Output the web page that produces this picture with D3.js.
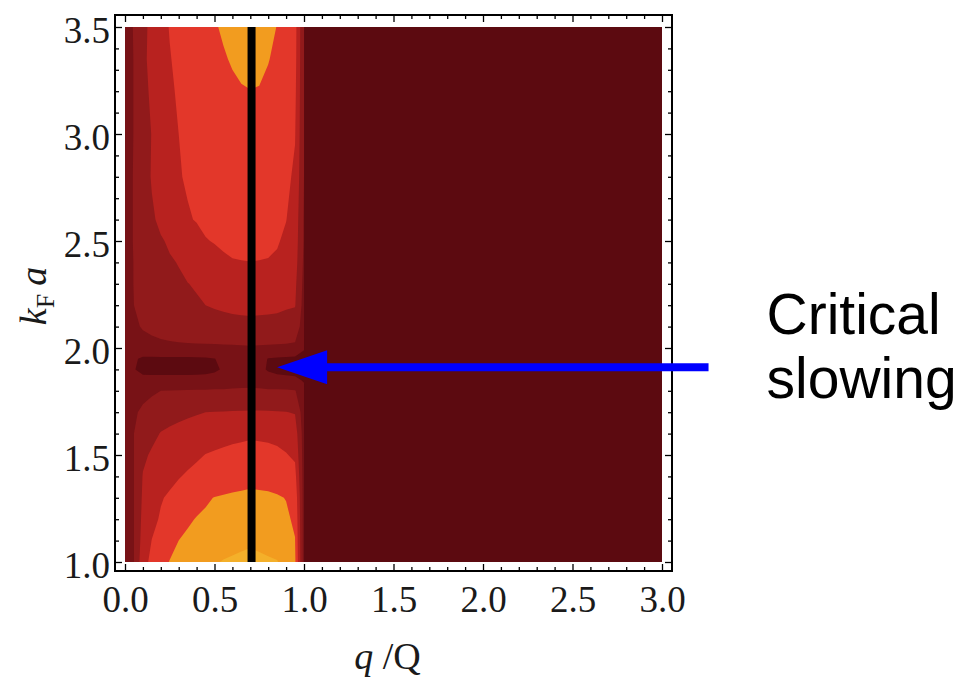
<!DOCTYPE html>
<html><head><meta charset="utf-8">
<script src="https://cdn.jsdelivr.net/npm/d3@7"></script>
<style>body{margin:0;background:#fff}</style>
</head><body>
<svg id="chart" width="979" height="677"></svg>
<script>
// ---- data ----
const qValues = [0,0.05,0.1,0.15,0.2,0.25,0.3,0.35,0.4,0.45,0.5,0.55,0.6,0.65,0.7,0.75,0.8,0.85,0.9,0.95,1.0];
const plateauQ = [1.001, 3.0];
const plateauValue = 0;
const kValues = [1.0,1.1,1.2,1.3,1.4,1.5,1.6,1.7,1.8,1.85,1.9,1.95,2.0,2.1,2.2,2.3,2.4,2.5,2.6,2.8,3.0,3.2,3.35,3.5];
const rowK100 = [1.3,2.0,3.64,4.25,4.67,5.04,5.21,5.39,5.57,5.75,5.93,6.05,6.13,6.22,6.3,6.21,6.12,6.04,5.68,5.15,1.5];
const rowK110 = [1.3,2.0,3.41,4.02,4.33,4.67,5.0,5.14,5.28,5.41,5.55,5.62,5.7,5.77,5.84,5.76,5.68,5.6,5.3,5.02,1.5];
const rowK120 = [1.3,2.0,3.27,3.73,4.11,4.37,4.63,4.89,5.04,5.11,5.18,5.25,5.31,5.38,5.45,5.38,5.32,5.25,5.1,4.9,1.5];
const rowK130 = [1.3,2.0,3.15,3.54,3.92,4.15,4.34,4.53,4.72,4.91,5.02,5.06,5.1,5.12,5.15,5.13,5.12,5.06,4.98,4.7,1.5];
const rowK140 = [1.3,2.0,3.05,3.27,3.5,3.73,3.95,4.11,4.24,4.38,4.51,4.65,4.7,4.75,4.8,4.77,4.73,4.7,4.5,4.3,1.5];
const rowK150 = [1.3,2.0,2.83,3.12,3.27,3.42,3.58,3.73,3.88,4.02,4.09,4.17,4.25,4.3,4.35,4.33,4.3,4.18,4.05,3.85,1.5];
const rowK160 = [1.25,2.0,2.38,2.77,3.04,3.16,3.27,3.38,3.49,3.6,3.65,3.7,3.75,3.8,3.85,3.82,3.78,3.75,3.62,3.5,1.5];
const rowK170 = [1.2,1.87,2.17,2.39,2.6,2.68,2.76,2.84,2.92,3.0,3.02,3.03,3.05,3.06,3.08,3.07,3.06,3.04,3.02,2.95,1.4];
const rowK180 = [1.15,1.53,1.71,1.86,2.0,2.02,2.03,2.05,2.07,2.08,2.1,2.1,2.11,2.11,2.12,2.12,2.11,2.11,2.1,2.05,1.3];
const rowK185 = [1.15,1.2,1.25,1.27,1.28,1.28,1.28,1.28,1.28,1.3,1.35,1.45,1.6,1.68,1.7,1.6,1.4,1.3,1.25,1.2,0.9];
const rowK190 = [1.1,1.05,0.75,0.7,0.7,0.7,0.7,0.7,0.72,0.76,0.85,1.1,1.3,1.42,1.45,1.25,0.9,0.75,0.7,0.65,0.5];
const rowK195 = [1.12,1.1,0.88,0.85,0.85,0.85,0.85,0.85,0.86,0.9,0.98,1.2,1.4,1.52,1.55,1.35,0.96,0.88,0.85,0.8,0.6];
const rowK200 = [1.15,1.3,1.5,1.65,1.75,1.8,1.82,1.84,1.85,1.85,1.86,1.87,1.88,1.9,1.92,1.9,1.88,1.86,1.85,1.8,1.1];
const rowK210 = [1.2,1.8,2.1,2.25,2.35,2.42,2.48,2.52,2.56,2.6,2.63,2.66,2.68,2.69,2.7,2.69,2.68,2.66,2.62,2.55,1.5];
const rowK220 = [1.25,2.0,2.3,2.5,2.62,2.72,2.8,2.87,2.94,3.0,3.08,3.15,3.22,3.27,3.3,3.28,3.25,3.2,3.1,3.05,1.6];
const rowK230 = [1.25,2.05,2.4,2.6,2.75,2.85,2.93,2.99,3.05,3.15,3.3,3.42,3.52,3.6,3.65,3.63,3.6,3.52,3.4,3.2,1.7];
const rowK240 = [1.3,2.05,2.5,2.7,2.85,2.95,3.02,3.15,3.3,3.5,3.7,3.88,3.96,3.98,3.99,3.98,3.96,3.88,3.7,3.4,1.8];
const rowK250 = [1.3,2.1,2.55,2.8,2.95,3.07,3.18,3.35,3.55,3.95,4.05,4.12,4.17,4.19,4.2,4.19,4.15,4.07,3.85,3.5,1.9];
const rowK260 = [1.3,2.1,2.6,2.92,3.12,3.35,3.58,3.88,4.08,4.2,4.27,4.3,4.33,4.35,4.35,4.34,4.3,4.2,4.02,3.6,1.9];
const rowK280 = [1.3,2.1,2.7,3.05,3.3,3.6,3.9,4.15,4.3,4.4,4.45,4.5,4.53,4.55,4.55,4.53,4.5,4.4,4.2,3.85,2.0];
const rowK300 = [1.3,2.05,2.75,3.02,3.4,3.7,4.0,4.25,4.42,4.55,4.62,4.68,4.72,4.74,4.75,4.74,4.7,4.6,4.4,4.05,2.0];
const rowK320 = [1.3,2.05,2.8,3.12,3.5,3.85,4.12,4.38,4.55,4.68,4.76,4.83,4.9,4.96,4.99,4.97,4.9,4.78,4.58,4.2,2.0];
const rowK335 = [1.3,2.05,2.85,3.2,3.6,3.95,4.22,4.45,4.62,4.76,4.86,4.95,5.05,5.13,5.18,5.15,5.02,4.9,4.7,4.3,2.0];
const rowK350 = [1.3,2.1,2.75,3.25,3.65,4.05,4.3,4.52,4.7,4.84,4.95,5.07,5.2,5.3,5.35,5.3,5.18,4.98,4.75,4.35,2.0];
const gridRows = [rowK100,rowK110,rowK120,rowK130,rowK140,rowK150,rowK160,rowK170,rowK180,rowK185,rowK190,rowK195,
                  rowK200,rowK210,rowK220,rowK230,rowK240,rowK250,rowK260,rowK280,rowK300,rowK320,rowK335,rowK350];
const levels = [1,2,3,4,5,6];
const baseColor = "#5c0a10";
const levelColors = ["#781216","#911a1b","#b8221f","#e3372a","#f29c1f","#f4b02a"];
const xTicks = [0,0.5,1.0,1.5,2.0,2.5,3.0];
const yTicks = [1.0,1.5,2.0,2.5,3.0,3.5];
const criticalQ = 0.707;
const arrowTip = [0.85, 1.91];
const arrowTailQ = 3.26;
const noteLines = ["Critical","slowing"];

// ---- layout ----
const svg = d3.select("#chart");
const plot = {left:125, right:662, top:27, bottom:562};
const frame = {left:115, right:672, top:15, bottom:571};
const serif = "'Liberation Serif','Times New Roman',Times,serif";
const sans = "'Liberation Sans',Arial,Helvetica,sans-serif";

const x = d3.scaleLinear().domain([0,3]).range([plot.left, plot.right]);
const y = d3.scaleLinear().domain([1,3.5]).range([plot.bottom, plot.top]);

// ---- contour grid ----
const qFull = qValues.concat(plateauQ);
const n = qFull.length, m = kValues.length;
const grid = [];
gridRows.forEach(row => { row.forEach(v => grid.push(v)); plateauQ.forEach(() => grid.push(plateauValue)); });
const qIndex = d3.scaleLinear().domain(d3.range(n)).range(qFull).clamp(true);
const kIndex = d3.scaleLinear().domain(d3.range(m)).range(kValues).clamp(true);
const proj = d3.geoTransform({point(px, py){ this.stream.point(x(qIndex(px - 0.5)), y(kIndex(py - 0.5))); }});
const path = d3.geoPath(proj);
const bands = d3.contours().size([n, m]).thresholds(levels)(grid);

svg.append("clipPath").attr("id","plotClip").append("rect")
  .attr("x", x(0)).attr("y", y(3.5)).attr("width", x(3)-x(0)).attr("height", y(1)-y(3.5));
const gp = svg.append("g").attr("clip-path","url(#plotClip)");
gp.append("rect").attr("x", x(0)).attr("y", y(3.5)).attr("width", x(3)-x(0)).attr("height", y(1)-y(3.5)).attr("fill", baseColor);
gp.selectAll("path.band").data(bands).join("path").attr("class","band")
  .attr("d", path).attr("fill", (d,i) => levelColors[i]);

gp.append("line").attr("x1", x(criticalQ)).attr("x2", x(criticalQ)).attr("y1", y(1)).attr("y2", y(3.5))
  .attr("stroke","#000").attr("stroke-width", 8);

// ---- frame & ticks ----
svg.append("rect").attr("x", frame.left).attr("y", frame.top)
  .attr("width", frame.right-frame.left).attr("height", frame.bottom-frame.top)
  .attr("fill","none").attr("stroke","#000").attr("stroke-width",2);

const xMinor = d3.range(0, 3.0001, 0.1).filter(v => Math.abs(v*2 - Math.round(v*2)) > 1e-6);
const yMinor = d3.range(1, 3.5001, 0.1).filter(v => Math.abs(v*2 - Math.round(v*2)) > 1e-6);

function styleAxis(g){
  g.select(".domain").remove();
  g.selectAll(".tick line").attr("stroke","#000").attr("stroke-width",1.3);
  g.selectAll("text").attr("font-family", serif).attr("font-size", 37).attr("fill","#1a1a1a");
}
svg.append("g").attr("transform",`translate(0,${frame.bottom})`)
  .call(d3.axisBottom(x).tickValues(xTicks).tickSize(-7).tickPadding(15).tickFormat(d3.format(".1f"))).call(styleAxis);
svg.append("g").attr("transform",`translate(0,${frame.bottom})`)
  .call(d3.axisBottom(x).tickValues(xMinor).tickSize(-4).tickFormat("")).call(styleAxis);
svg.append("g").attr("transform",`translate(0,${frame.top})`)
  .call(d3.axisTop(x).tickValues(xTicks).tickSize(-7).tickFormat("")).call(styleAxis);
svg.append("g").attr("transform",`translate(0,${frame.top})`)
  .call(d3.axisTop(x).tickValues(xMinor).tickSize(-4).tickFormat("")).call(styleAxis);

const yAx = svg.append("g").attr("transform",`translate(${frame.left},0)`)
  .call(d3.axisLeft(y).tickValues(yTicks).tickSize(-7).tickPadding(5).tickFormat(d3.format(".1f"))).call(styleAxis);
yAx.selectAll("text").attr("dy","0.42em");
svg.append("g").attr("transform",`translate(${frame.left},0)`)
  .call(d3.axisLeft(y).tickValues(yMinor).tickSize(-4).tickFormat("")).call(styleAxis);
svg.append("g").attr("transform",`translate(${frame.right},0)`)
  .call(d3.axisRight(y).tickValues(yTicks).tickSize(-7).tickFormat("")).call(styleAxis);
svg.append("g").attr("transform",`translate(${frame.right},0)`)
  .call(d3.axisRight(y).tickValues(yMinor).tickSize(-4).tickFormat("")).call(styleAxis);

// ---- axis titles ----
const xt = svg.append("text").attr("x", (frame.left+frame.right)/2 - 6).attr("y", 669)
  .attr("text-anchor","middle").attr("font-family", serif).attr("font-size", 38).attr("fill","#1a1a1a");
xt.append("tspan").attr("font-style","italic").text("q");
xt.append("tspan").text(" /Q");

const yt = svg.append("text").attr("transform",`translate(46,${(frame.top+frame.bottom)/2 + 3}) rotate(-90)`)
  .attr("text-anchor","middle").attr("font-family", serif).attr("font-size", 38).attr("fill","#1a1a1a");
yt.append("tspan").attr("font-style","italic").text("k");
yt.append("tspan").attr("font-size", 26).attr("dy", 8).text("F");
yt.append("tspan").attr("font-style","italic").attr("dy", -8).attr("dx", 8).text("a");

// ---- annotation arrow ----
const tipX = x(arrowTip[0]), tipY = y(arrowTip[1]);
const headLen = 50, headHalf = 17;
svg.append("line").attr("x1", x(arrowTailQ)).attr("x2", tipX + headLen - 2).attr("y1", tipY).attr("y2", tipY)
  .attr("stroke","#0000ff").attr("stroke-width", 8);
svg.append("path").attr("d", d3.line()([[tipX, tipY],[tipX+headLen, tipY-headHalf],[tipX+headLen, tipY+headHalf]]) + "Z")
  .attr("fill","#0000ff");

noteLines.forEach((t,i) => svg.append("text").attr("font-family", sans).attr("font-size", 57).attr("fill","#000")
  .attr("x", x(arrowTailQ) + 58).attr("y", tipY - 33 + i*64).text(t));
</script>
</body></html>
